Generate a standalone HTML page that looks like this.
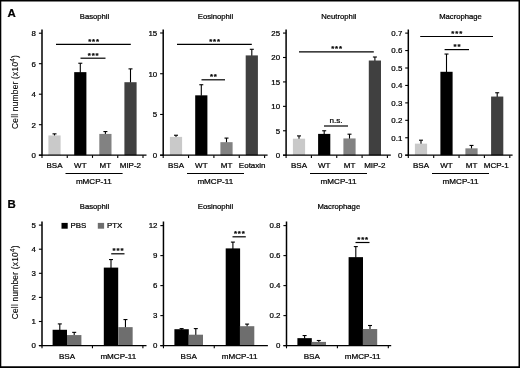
<!DOCTYPE html>
<html><head><meta charset="utf-8"><title>Figure</title>
<style>
html,body{margin:0;padding:0;background:#fff;}
body{width:520px;height:368px;overflow:hidden;position:relative;font-family:"Liberation Sans",sans-serif;}
svg{position:absolute;left:0;top:0;display:block;font-family:"Liberation Sans",sans-serif;fill:#000;}

text{stroke:#000;stroke-width:0.24px;}
text.yl{stroke-width:0.1px;}
text.st{stroke-width:0.2px;}
</style></head><body>
<svg width="520" height="368" viewBox="0 0 520 368">
<rect x="0" y="0" width="520" height="368" fill="#fff"/>
<defs><filter id="bt" x="-5%" y="-5%" width="110%" height="110%"><feGaussianBlur stdDeviation="0.45"/></filter><filter id="bs" x="-5%" y="-5%" width="110%" height="110%"><feGaussianBlur stdDeviation="0.3"/></filter></defs>
<g id="s" filter="url(#bs)">
<line x1="42.00" y1="29.50" x2="42.00" y2="155.80" stroke="#000" stroke-width="1.5"/>
<line x1="38.90" y1="155.20" x2="42.00" y2="155.20" stroke="#000" stroke-width="1.1"/>
<line x1="38.90" y1="124.70" x2="42.00" y2="124.70" stroke="#000" stroke-width="1.1"/>
<line x1="38.90" y1="94.20" x2="42.00" y2="94.20" stroke="#000" stroke-width="1.1"/>
<line x1="38.90" y1="63.70" x2="42.00" y2="63.70" stroke="#000" stroke-width="1.1"/>
<line x1="38.90" y1="33.20" x2="42.00" y2="33.20" stroke="#000" stroke-width="1.1"/>
<line x1="54.50" y1="133.85" x2="54.50" y2="135.93" stroke="#000" stroke-width="1.1"/>
<line x1="52.50" y1="133.85" x2="56.50" y2="133.85" stroke="#000" stroke-width="1.1"/>
<rect x="48.40" y="135.43" width="12.20" height="19.77" fill="#c9c9c9"/>
<line x1="80.30" y1="63.24" x2="80.30" y2="72.64" stroke="#000" stroke-width="1.1"/>
<line x1="78.30" y1="63.24" x2="82.30" y2="63.24" stroke="#000" stroke-width="1.1"/>
<rect x="74.20" y="72.14" width="12.20" height="83.06" fill="#000"/>
<line x1="105.40" y1="131.56" x2="105.40" y2="134.41" stroke="#000" stroke-width="1.1"/>
<line x1="103.40" y1="131.56" x2="107.40" y2="131.56" stroke="#000" stroke-width="1.1"/>
<rect x="99.30" y="133.91" width="12.20" height="21.29" fill="#828282"/>
<line x1="130.50" y1="68.88" x2="130.50" y2="82.71" stroke="#000" stroke-width="1.1"/>
<line x1="128.50" y1="68.88" x2="132.50" y2="68.88" stroke="#000" stroke-width="1.1"/>
<rect x="124.40" y="82.21" width="12.20" height="72.99" fill="#3f3f3f"/>
<line x1="38.90" y1="155.20" x2="146.50" y2="155.20" stroke="#000" stroke-width="1.2"/>
<line x1="42.00" y1="155.20" x2="42.00" y2="157.90" stroke="#000" stroke-width="1.1"/>
<line x1="67.25" y1="155.20" x2="67.25" y2="157.90" stroke="#000" stroke-width="1.1"/>
<line x1="92.50" y1="155.20" x2="92.50" y2="157.90" stroke="#000" stroke-width="1.1"/>
<line x1="117.75" y1="155.20" x2="117.75" y2="157.90" stroke="#000" stroke-width="1.1"/>
<line x1="143.00" y1="155.20" x2="143.00" y2="157.90" stroke="#000" stroke-width="1.1"/>
<line x1="65.50" y1="173.55" x2="122.60" y2="173.55" stroke="#000" stroke-width="1.1"/>
<line x1="56.00" y1="44.40" x2="130.80" y2="44.40" stroke="#000" stroke-width="1.2"/>
<line x1="80.50" y1="58.20" x2="105.50" y2="58.20" stroke="#000" stroke-width="1.2"/>
<line x1="163.20" y1="29.50" x2="163.20" y2="155.80" stroke="#000" stroke-width="1.5"/>
<line x1="160.10" y1="155.20" x2="163.20" y2="155.20" stroke="#000" stroke-width="1.1"/>
<line x1="160.10" y1="114.46" x2="163.20" y2="114.46" stroke="#000" stroke-width="1.1"/>
<line x1="160.10" y1="73.73" x2="163.20" y2="73.73" stroke="#000" stroke-width="1.1"/>
<line x1="160.10" y1="32.99" x2="163.20" y2="32.99" stroke="#000" stroke-width="1.1"/>
<line x1="176.00" y1="135.24" x2="176.00" y2="137.38" stroke="#000" stroke-width="1.1"/>
<line x1="174.00" y1="135.24" x2="178.00" y2="135.24" stroke="#000" stroke-width="1.1"/>
<rect x="169.90" y="136.88" width="12.20" height="18.32" fill="#c9c9c9"/>
<line x1="201.30" y1="84.73" x2="201.30" y2="95.83" stroke="#000" stroke-width="1.1"/>
<line x1="199.30" y1="84.73" x2="203.30" y2="84.73" stroke="#000" stroke-width="1.1"/>
<rect x="195.20" y="95.33" width="12.20" height="59.87" fill="#000"/>
<line x1="226.50" y1="138.09" x2="226.50" y2="142.67" stroke="#000" stroke-width="1.1"/>
<line x1="224.50" y1="138.09" x2="228.50" y2="138.09" stroke="#000" stroke-width="1.1"/>
<rect x="220.40" y="142.17" width="12.20" height="13.03" fill="#828282"/>
<line x1="251.80" y1="49.29" x2="251.80" y2="55.91" stroke="#000" stroke-width="1.1"/>
<line x1="249.80" y1="49.29" x2="253.80" y2="49.29" stroke="#000" stroke-width="1.1"/>
<rect x="245.70" y="55.41" width="12.20" height="99.79" fill="#3f3f3f"/>
<line x1="160.10" y1="155.20" x2="267.60" y2="155.20" stroke="#000" stroke-width="1.2"/>
<line x1="163.20" y1="155.20" x2="163.20" y2="157.90" stroke="#000" stroke-width="1.1"/>
<line x1="188.55" y1="155.20" x2="188.55" y2="157.90" stroke="#000" stroke-width="1.1"/>
<line x1="213.90" y1="155.20" x2="213.90" y2="157.90" stroke="#000" stroke-width="1.1"/>
<line x1="239.25" y1="155.20" x2="239.25" y2="157.90" stroke="#000" stroke-width="1.1"/>
<line x1="264.60" y1="155.20" x2="264.60" y2="157.90" stroke="#000" stroke-width="1.1"/>
<line x1="187.00" y1="173.55" x2="244.00" y2="173.55" stroke="#000" stroke-width="1.1"/>
<line x1="177.00" y1="44.40" x2="251.80" y2="44.40" stroke="#000" stroke-width="1.2"/>
<line x1="201.50" y1="79.80" x2="225.00" y2="79.80" stroke="#000" stroke-width="1.2"/>
<line x1="286.10" y1="29.50" x2="286.10" y2="155.80" stroke="#000" stroke-width="1.5"/>
<line x1="283.00" y1="155.20" x2="286.10" y2="155.20" stroke="#000" stroke-width="1.1"/>
<line x1="283.00" y1="130.77" x2="286.10" y2="130.77" stroke="#000" stroke-width="1.1"/>
<line x1="283.00" y1="106.35" x2="286.10" y2="106.35" stroke="#000" stroke-width="1.1"/>
<line x1="283.00" y1="81.92" x2="286.10" y2="81.92" stroke="#000" stroke-width="1.1"/>
<line x1="283.00" y1="57.50" x2="286.10" y2="57.50" stroke="#000" stroke-width="1.1"/>
<line x1="283.00" y1="33.07" x2="286.10" y2="33.07" stroke="#000" stroke-width="1.1"/>
<line x1="299.00" y1="135.90" x2="299.00" y2="139.18" stroke="#000" stroke-width="1.1"/>
<line x1="297.00" y1="135.90" x2="301.00" y2="135.90" stroke="#000" stroke-width="1.1"/>
<rect x="292.90" y="138.68" width="12.20" height="16.52" fill="#c9c9c9"/>
<line x1="324.20" y1="130.77" x2="324.20" y2="134.39" stroke="#000" stroke-width="1.1"/>
<line x1="322.20" y1="130.77" x2="326.20" y2="130.77" stroke="#000" stroke-width="1.1"/>
<rect x="318.10" y="133.89" width="12.20" height="21.31" fill="#000"/>
<line x1="349.50" y1="134.19" x2="349.50" y2="138.94" stroke="#000" stroke-width="1.1"/>
<line x1="347.50" y1="134.19" x2="351.50" y2="134.19" stroke="#000" stroke-width="1.1"/>
<rect x="343.40" y="138.44" width="12.20" height="16.76" fill="#828282"/>
<line x1="374.90" y1="57.01" x2="374.90" y2="61.02" stroke="#000" stroke-width="1.1"/>
<line x1="372.90" y1="57.01" x2="376.90" y2="57.01" stroke="#000" stroke-width="1.1"/>
<rect x="368.80" y="60.52" width="12.20" height="94.68" fill="#3f3f3f"/>
<line x1="283.00" y1="155.20" x2="390.80" y2="155.20" stroke="#000" stroke-width="1.2"/>
<line x1="286.10" y1="155.20" x2="286.10" y2="157.90" stroke="#000" stroke-width="1.1"/>
<line x1="311.40" y1="155.20" x2="311.40" y2="157.90" stroke="#000" stroke-width="1.1"/>
<line x1="336.75" y1="155.20" x2="336.75" y2="157.90" stroke="#000" stroke-width="1.1"/>
<line x1="362.10" y1="155.20" x2="362.10" y2="157.90" stroke="#000" stroke-width="1.1"/>
<line x1="387.40" y1="155.20" x2="387.40" y2="157.90" stroke="#000" stroke-width="1.1"/>
<line x1="310.00" y1="173.55" x2="367.00" y2="173.55" stroke="#000" stroke-width="1.1"/>
<line x1="299.00" y1="51.80" x2="373.80" y2="51.80" stroke="#000" stroke-width="1.2"/>
<line x1="324.00" y1="126.00" x2="348.00" y2="126.00" stroke="#000" stroke-width="1.2"/>
<line x1="408.30" y1="29.50" x2="408.30" y2="155.80" stroke="#000" stroke-width="1.5"/>
<line x1="405.20" y1="155.20" x2="408.30" y2="155.20" stroke="#000" stroke-width="1.1"/>
<line x1="405.20" y1="137.76" x2="408.30" y2="137.76" stroke="#000" stroke-width="1.1"/>
<line x1="405.20" y1="120.32" x2="408.30" y2="120.32" stroke="#000" stroke-width="1.1"/>
<line x1="405.20" y1="102.88" x2="408.30" y2="102.88" stroke="#000" stroke-width="1.1"/>
<line x1="405.20" y1="85.44" x2="408.30" y2="85.44" stroke="#000" stroke-width="1.1"/>
<line x1="405.20" y1="68.00" x2="408.30" y2="68.00" stroke="#000" stroke-width="1.1"/>
<line x1="405.20" y1="50.56" x2="408.30" y2="50.56" stroke="#000" stroke-width="1.1"/>
<line x1="405.20" y1="33.12" x2="408.30" y2="33.12" stroke="#000" stroke-width="1.1"/>
<line x1="421.00" y1="140.20" x2="421.00" y2="144.14" stroke="#000" stroke-width="1.1"/>
<line x1="419.00" y1="140.20" x2="423.00" y2="140.20" stroke="#000" stroke-width="1.1"/>
<rect x="414.90" y="143.64" width="12.20" height="11.56" fill="#c9c9c9"/>
<line x1="446.50" y1="54.05" x2="446.50" y2="72.29" stroke="#000" stroke-width="1.1"/>
<line x1="444.50" y1="54.05" x2="448.50" y2="54.05" stroke="#000" stroke-width="1.1"/>
<rect x="440.40" y="71.79" width="12.20" height="83.41" fill="#000"/>
<line x1="471.50" y1="145.43" x2="471.50" y2="148.85" stroke="#000" stroke-width="1.1"/>
<line x1="469.50" y1="145.43" x2="473.50" y2="145.43" stroke="#000" stroke-width="1.1"/>
<rect x="465.40" y="148.35" width="12.20" height="6.85" fill="#828282"/>
<line x1="497.20" y1="92.76" x2="497.20" y2="97.05" stroke="#000" stroke-width="1.1"/>
<line x1="495.20" y1="92.76" x2="499.20" y2="92.76" stroke="#000" stroke-width="1.1"/>
<rect x="491.10" y="96.55" width="12.20" height="58.65" fill="#3f3f3f"/>
<line x1="405.20" y1="155.20" x2="512.60" y2="155.20" stroke="#000" stroke-width="1.2"/>
<line x1="408.30" y1="155.20" x2="408.30" y2="157.90" stroke="#000" stroke-width="1.1"/>
<line x1="433.70" y1="155.20" x2="433.70" y2="157.90" stroke="#000" stroke-width="1.1"/>
<line x1="459.05" y1="155.20" x2="459.05" y2="157.90" stroke="#000" stroke-width="1.1"/>
<line x1="484.40" y1="155.20" x2="484.40" y2="157.90" stroke="#000" stroke-width="1.1"/>
<line x1="509.80" y1="155.20" x2="509.80" y2="157.90" stroke="#000" stroke-width="1.1"/>
<line x1="432.00" y1="173.55" x2="489.00" y2="173.55" stroke="#000" stroke-width="1.1"/>
<line x1="420.20" y1="36.50" x2="493.00" y2="36.50" stroke="#000" stroke-width="1.2"/>
<line x1="444.60" y1="49.60" x2="469.00" y2="49.60" stroke="#000" stroke-width="1.2"/>
<rect x="61.50" y="222.90" width="6.20" height="5.80" fill="#000"/>
<rect x="97.80" y="222.90" width="6.30" height="5.80" fill="#6e6e6e"/>
<line x1="42.00" y1="221.50" x2="42.00" y2="346.20" stroke="#000" stroke-width="1.5"/>
<line x1="38.90" y1="345.60" x2="42.00" y2="345.60" stroke="#000" stroke-width="1.1"/>
<line x1="38.90" y1="321.50" x2="42.00" y2="321.50" stroke="#000" stroke-width="1.1"/>
<line x1="38.90" y1="297.40" x2="42.00" y2="297.40" stroke="#000" stroke-width="1.1"/>
<line x1="38.90" y1="273.30" x2="42.00" y2="273.30" stroke="#000" stroke-width="1.1"/>
<line x1="38.90" y1="249.20" x2="42.00" y2="249.20" stroke="#000" stroke-width="1.1"/>
<line x1="38.90" y1="225.10" x2="42.00" y2="225.10" stroke="#000" stroke-width="1.1"/>
<line x1="59.80" y1="323.91" x2="59.80" y2="330.28" stroke="#000" stroke-width="1.1"/>
<line x1="57.80" y1="323.91" x2="61.80" y2="323.91" stroke="#000" stroke-width="1.1"/>
<rect x="52.60" y="329.78" width="14.40" height="15.82" fill="#000"/>
<line x1="74.20" y1="332.35" x2="74.20" y2="335.58" stroke="#000" stroke-width="1.1"/>
<line x1="72.20" y1="332.35" x2="76.20" y2="332.35" stroke="#000" stroke-width="1.1"/>
<rect x="67.00" y="335.08" width="14.40" height="10.52" fill="#6e6e6e"/>
<line x1="111.00" y1="259.56" x2="111.00" y2="268.10" stroke="#000" stroke-width="1.1"/>
<line x1="109.00" y1="259.56" x2="113.00" y2="259.56" stroke="#000" stroke-width="1.1"/>
<rect x="103.80" y="267.60" width="14.40" height="78.00" fill="#000"/>
<line x1="125.45" y1="319.57" x2="125.45" y2="327.63" stroke="#000" stroke-width="1.1"/>
<line x1="123.45" y1="319.57" x2="127.45" y2="319.57" stroke="#000" stroke-width="1.1"/>
<rect x="118.25" y="327.13" width="14.40" height="18.47" fill="#6e6e6e"/>
<line x1="38.90" y1="345.60" x2="146.50" y2="345.60" stroke="#000" stroke-width="1.2"/>
<line x1="42.00" y1="345.60" x2="42.00" y2="348.30" stroke="#000" stroke-width="1.1"/>
<line x1="92.45" y1="345.60" x2="92.45" y2="348.30" stroke="#000" stroke-width="1.1"/>
<line x1="142.90" y1="345.60" x2="142.90" y2="348.30" stroke="#000" stroke-width="1.1"/>
<line x1="111.20" y1="253.80" x2="124.50" y2="253.80" stroke="#000" stroke-width="1.2"/>
<line x1="163.45" y1="221.50" x2="163.45" y2="346.20" stroke="#000" stroke-width="1.5"/>
<line x1="160.35" y1="345.60" x2="163.45" y2="345.60" stroke="#000" stroke-width="1.1"/>
<line x1="160.35" y1="315.60" x2="163.45" y2="315.60" stroke="#000" stroke-width="1.1"/>
<line x1="160.35" y1="285.60" x2="163.45" y2="285.60" stroke="#000" stroke-width="1.1"/>
<line x1="160.35" y1="255.60" x2="163.45" y2="255.60" stroke="#000" stroke-width="1.1"/>
<line x1="160.35" y1="225.60" x2="163.45" y2="225.60" stroke="#000" stroke-width="1.1"/>
<line x1="181.60" y1="328.60" x2="181.60" y2="329.70" stroke="#000" stroke-width="1.1"/>
<line x1="179.60" y1="328.60" x2="183.60" y2="328.60" stroke="#000" stroke-width="1.1"/>
<rect x="174.40" y="329.20" width="14.40" height="16.40" fill="#000"/>
<line x1="195.80" y1="328.60" x2="195.80" y2="335.20" stroke="#000" stroke-width="1.1"/>
<line x1="193.80" y1="328.60" x2="197.80" y2="328.60" stroke="#000" stroke-width="1.1"/>
<rect x="188.60" y="334.70" width="14.40" height="10.90" fill="#6e6e6e"/>
<line x1="232.90" y1="242.10" x2="232.90" y2="248.90" stroke="#000" stroke-width="1.1"/>
<line x1="230.90" y1="242.10" x2="234.90" y2="242.10" stroke="#000" stroke-width="1.1"/>
<rect x="225.70" y="248.40" width="14.40" height="97.20" fill="#000"/>
<line x1="247.10" y1="324.10" x2="247.10" y2="326.70" stroke="#000" stroke-width="1.1"/>
<line x1="245.10" y1="324.10" x2="249.10" y2="324.10" stroke="#000" stroke-width="1.1"/>
<rect x="239.90" y="326.20" width="14.40" height="19.40" fill="#6e6e6e"/>
<line x1="160.35" y1="345.60" x2="267.90" y2="345.60" stroke="#000" stroke-width="1.2"/>
<line x1="163.45" y1="345.60" x2="163.45" y2="348.30" stroke="#000" stroke-width="1.1"/>
<line x1="214.25" y1="345.60" x2="214.25" y2="348.30" stroke="#000" stroke-width="1.1"/>
<line x1="232.50" y1="236.80" x2="245.80" y2="236.80" stroke="#000" stroke-width="1.2"/>
<line x1="286.50" y1="221.50" x2="286.50" y2="346.20" stroke="#000" stroke-width="1.5"/>
<line x1="283.40" y1="345.60" x2="286.50" y2="345.60" stroke="#000" stroke-width="1.1"/>
<line x1="283.40" y1="315.60" x2="286.50" y2="315.60" stroke="#000" stroke-width="1.1"/>
<line x1="283.40" y1="285.60" x2="286.50" y2="285.60" stroke="#000" stroke-width="1.1"/>
<line x1="283.40" y1="255.60" x2="286.50" y2="255.60" stroke="#000" stroke-width="1.1"/>
<line x1="283.40" y1="225.60" x2="286.50" y2="225.60" stroke="#000" stroke-width="1.1"/>
<line x1="304.60" y1="335.55" x2="304.60" y2="338.65" stroke="#000" stroke-width="1.1"/>
<line x1="302.60" y1="335.55" x2="306.60" y2="335.55" stroke="#000" stroke-width="1.1"/>
<rect x="297.40" y="338.15" width="14.40" height="7.45" fill="#000"/>
<line x1="318.80" y1="340.50" x2="318.80" y2="342.40" stroke="#000" stroke-width="1.1"/>
<line x1="316.80" y1="340.50" x2="320.80" y2="340.50" stroke="#000" stroke-width="1.1"/>
<rect x="311.60" y="341.90" width="14.40" height="3.70" fill="#6e6e6e"/>
<line x1="355.80" y1="246.60" x2="355.80" y2="257.65" stroke="#000" stroke-width="1.1"/>
<line x1="353.80" y1="246.60" x2="357.80" y2="246.60" stroke="#000" stroke-width="1.1"/>
<rect x="348.60" y="257.15" width="14.40" height="88.45" fill="#000"/>
<line x1="370.00" y1="325.50" x2="370.00" y2="329.50" stroke="#000" stroke-width="1.1"/>
<line x1="368.00" y1="325.50" x2="372.00" y2="325.50" stroke="#000" stroke-width="1.1"/>
<rect x="362.80" y="329.00" width="14.40" height="16.60" fill="#6e6e6e"/>
<line x1="283.40" y1="345.60" x2="391.20" y2="345.60" stroke="#000" stroke-width="1.2"/>
<line x1="286.50" y1="345.60" x2="286.50" y2="348.30" stroke="#000" stroke-width="1.1"/>
<line x1="337.40" y1="345.60" x2="337.40" y2="348.30" stroke="#000" stroke-width="1.1"/>
<line x1="388.30" y1="345.60" x2="388.30" y2="348.30" stroke="#000" stroke-width="1.1"/>
<line x1="355.50" y1="242.50" x2="369.50" y2="242.50" stroke="#000" stroke-width="1.2"/>
</g>
<g id="g" filter="url(#bt)">
<text x="11.50" y="17.28" text-anchor="middle" font-size="11.4" font-weight="bold" >A</text>
<text class="yl" transform="translate(18.1,92.0) rotate(-90)" text-anchor="middle" font-size="8.4" letter-spacing="0.22">Cell number (x10<tspan font-size="6.3" dy="-2.9">4</tspan><tspan dy="2.9">)</tspan></text>
<text x="94.50" y="18.76" text-anchor="middle" font-size="7.7" font-weight="normal" >Basophil</text>
<text x="36.00" y="158.03" text-anchor="end" font-size="7.9" font-weight="normal" >0</text>
<text x="36.00" y="127.53" text-anchor="end" font-size="7.9" font-weight="normal" >2</text>
<text x="36.00" y="97.03" text-anchor="end" font-size="7.9" font-weight="normal" >4</text>
<text x="36.00" y="66.53" text-anchor="end" font-size="7.9" font-weight="normal" >6</text>
<text x="36.00" y="36.03" text-anchor="end" font-size="7.9" font-weight="normal" >8</text>
<text x="54.50" y="168.26" text-anchor="middle" font-size="8.0" font-weight="normal" >BSA</text>
<text x="80.30" y="168.26" text-anchor="middle" font-size="8.0" font-weight="normal" >WT</text>
<text x="105.40" y="168.26" text-anchor="middle" font-size="8.0" font-weight="normal" >MT</text>
<text x="130.40" y="168.26" text-anchor="middle" font-size="8.0" font-weight="normal" >MIP-2</text>
<text x="93.80" y="184.20" text-anchor="middle" font-size="8.1" font-weight="normal" >mMCP-11</text>
<text x="94.00" y="44.00" text-anchor="middle" font-size="7.8" font-weight="bold" class="st" letter-spacing="0.85">***</text>
<text x="93.60" y="57.80" text-anchor="middle" font-size="7.8" font-weight="bold" class="st" letter-spacing="0.85">***</text>
<text x="215.50" y="18.76" text-anchor="middle" font-size="7.7" font-weight="normal" >Eosinophil</text>
<text x="157.20" y="158.03" text-anchor="end" font-size="7.9" font-weight="normal" >0</text>
<text x="157.20" y="117.29" text-anchor="end" font-size="7.9" font-weight="normal" >5</text>
<text x="157.20" y="76.56" text-anchor="end" font-size="7.9" font-weight="normal" >10</text>
<text x="157.20" y="35.82" text-anchor="end" font-size="7.9" font-weight="normal" >15</text>
<text x="176.00" y="168.26" text-anchor="middle" font-size="8.0" font-weight="normal" >BSA</text>
<text x="201.30" y="168.26" text-anchor="middle" font-size="8.0" font-weight="normal" >WT</text>
<text x="226.50" y="168.26" text-anchor="middle" font-size="8.0" font-weight="normal" >MT</text>
<text x="252.20" y="168.26" text-anchor="middle" font-size="8.0" font-weight="normal" >Eotaxin</text>
<text x="215.30" y="184.20" text-anchor="middle" font-size="8.1" font-weight="normal" >mMCP-11</text>
<text x="215.00" y="44.00" text-anchor="middle" font-size="7.8" font-weight="bold" class="st" letter-spacing="0.85">***</text>
<text x="213.85" y="79.40" text-anchor="middle" font-size="7.8" font-weight="bold" class="st" letter-spacing="0.85">**</text>
<text x="338.80" y="18.76" text-anchor="middle" font-size="7.7" font-weight="normal" >Neutrophil</text>
<text x="280.10" y="158.03" text-anchor="end" font-size="7.9" font-weight="normal" >0</text>
<text x="280.10" y="133.60" text-anchor="end" font-size="7.9" font-weight="normal" >5</text>
<text x="280.10" y="109.18" text-anchor="end" font-size="7.9" font-weight="normal" >10</text>
<text x="280.10" y="84.75" text-anchor="end" font-size="7.9" font-weight="normal" >15</text>
<text x="280.10" y="60.33" text-anchor="end" font-size="7.9" font-weight="normal" >20</text>
<text x="280.10" y="35.90" text-anchor="end" font-size="7.9" font-weight="normal" >25</text>
<text x="299.00" y="168.26" text-anchor="middle" font-size="8.0" font-weight="normal" >BSA</text>
<text x="324.20" y="168.26" text-anchor="middle" font-size="8.0" font-weight="normal" >WT</text>
<text x="349.50" y="168.26" text-anchor="middle" font-size="8.0" font-weight="normal" >MT</text>
<text x="374.80" y="168.26" text-anchor="middle" font-size="8.0" font-weight="normal" >MIP-2</text>
<text x="338.50" y="184.20" text-anchor="middle" font-size="8.1" font-weight="normal" >mMCP-11</text>
<text x="337.00" y="51.40" text-anchor="middle" font-size="7.8" font-weight="bold" class="st" letter-spacing="0.85">***</text>
<text x="336.00" y="122.60" text-anchor="middle" font-size="8.1" font-weight="normal" >n.s.</text>
<text x="460.50" y="18.76" text-anchor="middle" font-size="7.7" font-weight="normal" >Macrophage</text>
<text x="402.30" y="158.03" text-anchor="end" font-size="7.9" font-weight="normal" >0</text>
<text x="402.30" y="140.59" text-anchor="end" font-size="7.9" font-weight="normal" >0.1</text>
<text x="402.30" y="123.15" text-anchor="end" font-size="7.9" font-weight="normal" >0.2</text>
<text x="402.30" y="105.71" text-anchor="end" font-size="7.9" font-weight="normal" >0.3</text>
<text x="402.30" y="88.27" text-anchor="end" font-size="7.9" font-weight="normal" >0.4</text>
<text x="402.30" y="70.83" text-anchor="end" font-size="7.9" font-weight="normal" >0.5</text>
<text x="402.30" y="53.39" text-anchor="end" font-size="7.9" font-weight="normal" >0.6</text>
<text x="402.30" y="35.95" text-anchor="end" font-size="7.9" font-weight="normal" >0.7</text>
<text x="421.00" y="168.26" text-anchor="middle" font-size="8.0" font-weight="normal" >BSA</text>
<text x="446.50" y="168.26" text-anchor="middle" font-size="8.0" font-weight="normal" >WT</text>
<text x="471.50" y="168.26" text-anchor="middle" font-size="8.0" font-weight="normal" >MT</text>
<text x="496.30" y="168.26" text-anchor="middle" font-size="8.0" font-weight="normal" >MCP-1</text>
<text x="460.50" y="184.20" text-anchor="middle" font-size="8.1" font-weight="normal" >mMCP-11</text>
<text x="457.20" y="36.10" text-anchor="middle" font-size="7.8" font-weight="bold" class="st" letter-spacing="0.85">***</text>
<text x="457.40" y="49.20" text-anchor="middle" font-size="7.8" font-weight="bold" class="st" letter-spacing="0.85">**</text>
<text x="11.50" y="207.88" text-anchor="middle" font-size="11.4" font-weight="bold" >B</text>
<text class="yl" transform="translate(18.1,282.3) rotate(-90)" text-anchor="middle" font-size="8.4" letter-spacing="0.22">Cell number (x10<tspan font-size="6.3" dy="-2.9">4</tspan><tspan dy="2.9">)</tspan></text>
<text x="70.50" y="228.13" text-anchor="start" font-size="7.9" font-weight="normal" >PBS</text>
<text x="106.90" y="228.13" text-anchor="start" font-size="7.9" font-weight="normal" >PTX</text>
<text x="94.50" y="208.96" text-anchor="middle" font-size="7.7" font-weight="normal" >Basophil</text>
<text x="36.00" y="348.43" text-anchor="end" font-size="7.9" font-weight="normal" >0</text>
<text x="36.00" y="324.33" text-anchor="end" font-size="7.9" font-weight="normal" >1</text>
<text x="36.00" y="300.23" text-anchor="end" font-size="7.9" font-weight="normal" >2</text>
<text x="36.00" y="276.13" text-anchor="end" font-size="7.9" font-weight="normal" >3</text>
<text x="36.00" y="252.03" text-anchor="end" font-size="7.9" font-weight="normal" >4</text>
<text x="36.00" y="227.93" text-anchor="end" font-size="7.9" font-weight="normal" >5</text>
<text x="67.00" y="359.10" text-anchor="middle" font-size="8.1" font-weight="normal" >BSA</text>
<text x="118.30" y="359.10" text-anchor="middle" font-size="8.1" font-weight="normal" >mMCP-11</text>
<text x="118.45" y="253.40" text-anchor="middle" font-size="7.8" font-weight="bold" class="st" letter-spacing="0.85">***</text>
<text x="215.50" y="208.96" text-anchor="middle" font-size="7.7" font-weight="normal" >Eosinophil</text>
<text x="157.45" y="348.43" text-anchor="end" font-size="7.9" font-weight="normal" >0</text>
<text x="157.45" y="318.43" text-anchor="end" font-size="7.9" font-weight="normal" >3</text>
<text x="157.45" y="288.43" text-anchor="end" font-size="7.9" font-weight="normal" >6</text>
<text x="157.45" y="258.43" text-anchor="end" font-size="7.9" font-weight="normal" >9</text>
<text x="157.45" y="228.43" text-anchor="end" font-size="7.9" font-weight="normal" >12</text>
<text x="188.70" y="359.10" text-anchor="middle" font-size="8.1" font-weight="normal" >BSA</text>
<text x="239.60" y="359.10" text-anchor="middle" font-size="8.1" font-weight="normal" >mMCP-11</text>
<text x="239.75" y="236.40" text-anchor="middle" font-size="7.8" font-weight="bold" class="st" letter-spacing="0.85">***</text>
<text x="338.80" y="208.96" text-anchor="middle" font-size="7.7" font-weight="normal" >Macrophage</text>
<text x="280.50" y="348.43" text-anchor="end" font-size="7.9" font-weight="normal" >0</text>
<text x="280.50" y="318.43" text-anchor="end" font-size="7.9" font-weight="normal" >0.2</text>
<text x="280.50" y="288.43" text-anchor="end" font-size="7.9" font-weight="normal" >0.4</text>
<text x="280.50" y="258.43" text-anchor="end" font-size="7.9" font-weight="normal" >0.6</text>
<text x="280.50" y="228.43" text-anchor="end" font-size="7.9" font-weight="normal" >0.8</text>
<text x="311.80" y="359.10" text-anchor="middle" font-size="8.1" font-weight="normal" >BSA</text>
<text x="362.60" y="359.10" text-anchor="middle" font-size="8.1" font-weight="normal" >mMCP-11</text>
<text x="363.10" y="241.50" text-anchor="middle" font-size="7.8" font-weight="bold" class="st" letter-spacing="0.85">***</text>
</g>
<path d="M0 0H520V368H0Z M1.3 1.5V366.2H518.5V1.5Z" fill="#000" fill-rule="evenodd"/>
</svg>
</body></html>
